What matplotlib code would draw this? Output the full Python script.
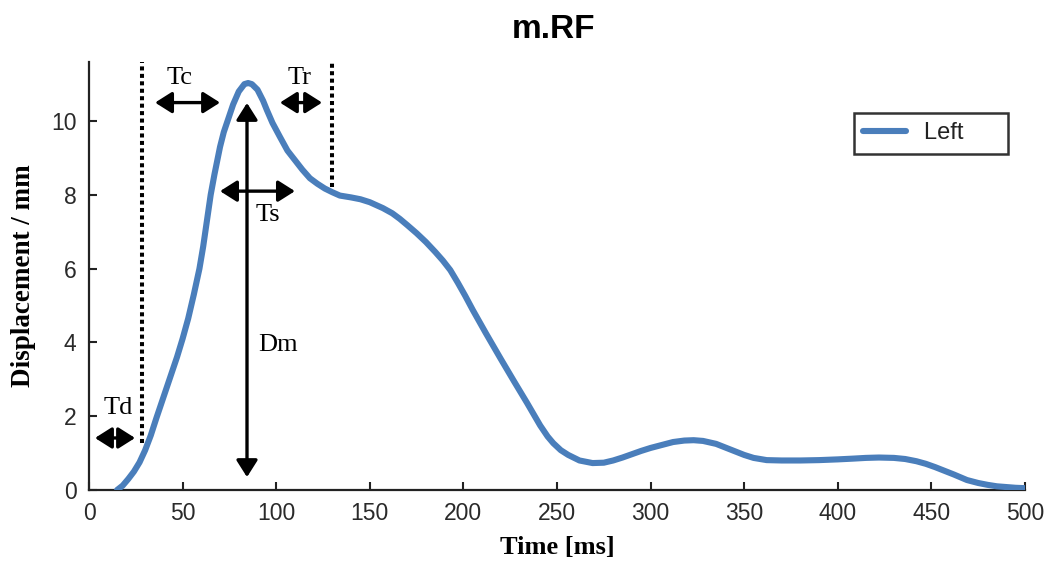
import matplotlib
matplotlib.use("Agg")
import matplotlib.pyplot as plt

# ---- data ----
time_ms = [15, 18, 21, 24, 27, 30, 33, 36, 40, 43, 47, 50, 53, 56, 59, 61, 63, 65, 67,
           70, 72, 74, 77, 80, 83, 85, 87, 90, 93, 95, 98, 102, 106, 110, 114, 118,
           122, 126, 130, 134, 140, 145, 150, 157, 162, 166, 170, 175, 180, 185, 189,
           193, 197, 201, 205, 212, 220, 227, 234, 241, 245, 248, 252, 256, 262, 269,
           275, 280, 285, 290, 295, 300, 306, 312, 318, 323, 328, 335, 340, 345, 350,
           355, 362, 370, 380, 390, 400, 408, 415, 422, 430, 436, 442, 447, 452, 457,
           462, 469, 475, 480, 485, 490, 495, 500]
left_disp = [0.0, 0.12, 0.3, 0.5, 0.75, 1.08, 1.48, 1.95, 2.55, 3.0, 3.6, 4.1, 4.65,
             5.3, 6.0, 6.6, 7.3, 8.0, 8.55, 9.3, 9.7, 10.0, 10.45, 10.8, 11.0, 11.03,
             11.0, 10.85, 10.55, 10.3, 9.95, 9.57, 9.2, 8.94, 8.68, 8.45, 8.3, 8.17,
             8.07, 7.98, 7.93, 7.88, 7.8, 7.64, 7.5, 7.35, 7.18, 6.96, 6.72, 6.45,
             6.22, 5.96, 5.62, 5.26, 4.88, 4.25, 3.55, 2.95, 2.36, 1.75, 1.45, 1.27,
             1.08, 0.95, 0.8, 0.73, 0.74, 0.8, 0.88, 0.97, 1.06, 1.14, 1.22, 1.3, 1.34,
             1.35, 1.33, 1.25, 1.15, 1.05, 0.95, 0.87, 0.81, 0.8, 0.8, 0.81, 0.83, 0.85,
             0.87, 0.88, 0.87, 0.84, 0.78, 0.71, 0.62, 0.52, 0.42, 0.27, 0.19, 0.14,
             0.1, 0.08, 0.06, 0.05]
x_ticks = [0, 50, 100, 150, 200, 250, 300, 350, 400, 450, 500]
y_ticks = [0, 2, 4, 6, 8, 10]

# annotation geometry (data units)
dotted_lines = [(28.1, 1.27), (129.6, 8.2)]          # x, bottom y (to top)
h_arrows = {"Td": (3.2, 24.6, 1.41), "Tc": (35.3, 70.0, 10.5),
            "Tr": (102.0, 124.5, 10.5), "Ts": (70.0, 110.0, 8.1)}
dm_arrow = (84.4, 0.35, 10.49)
labels = {"Td": (15.5, 2.22), "Tc": (48.6, 11.16), "Tr": (112.7, 11.16),
          "Ts": (95.6, 7.45), "Dm": (101.0, 3.93)}

W, H = 1049, 567
fig = plt.figure(figsize=(W / 100, H / 100), dpi=100)
ax = fig.add_axes([89 / W, 1 - 490 / H, (1025 - 89) / W, (490 - 62) / H])

line_color = "#4A7EBB"
ax.plot(time_ms, left_disp, color=line_color, lw=4.4, solid_capstyle="round",
        solid_joinstyle="round", label="Left", zorder=3)

ax.set_xlim(0, 500)
ax.set_ylim(0, 11.6)
ax.set_xticks(x_ticks)
ax.set_yticks(y_ticks)
for s in ["top", "right"]:
    ax.spines[s].set_visible(False)
for s in ["left", "bottom"]:
    ax.spines[s].set_linewidth(1.6)
    ax.spines[s].set_color("#222222")
ax.tick_params(direction="in", length=6, width=1.5, color="#222222",
               labelsize=16.5, labelcolor="#2a2a2a", pad=9)
for lab in ax.get_xticklabels() + ax.get_yticklabels():
    lab.set_fontfamily("Liberation Sans")

ax.set_xlabel("Time [ms]", fontfamily="Liberation Serif", fontweight="bold", fontsize=19)
ax.set_ylabel("Displacement / mm", fontfamily="Liberation Serif", fontweight="bold", fontsize=19.5)
ax.xaxis.set_label_coords(0.5, -0.108)
ax.yaxis.set_label_coords(-0.057, 0.5)

fig.text(553 / W, 1 - 30 / H, "m.RF", ha="center", va="center",
         fontfamily="Liberation Sans", fontweight="bold", fontsize=24)

# dotted verticals
for xv, yb in dotted_lines:
    ax.plot([xv, xv], [yb, 11.6], color="black", lw=2.9, ls=(0, (1.0, 0.85)),
            zorder=2, clip_on=False)

arrow_style = "<|-|>,head_length=0.6,head_width=0.38"
for key, (x0, x1, yy) in h_arrows.items():
    ax.annotate("", xy=(x1, yy), xytext=(x0, yy),
                arrowprops=dict(arrowstyle=arrow_style, color="black", lw=2.4,
                                mutation_scale=17, shrinkA=0, shrinkB=0), zorder=4)
xd, y0, y1 = dm_arrow
ax.annotate("", xy=(xd, y1), xytext=(xd, y0),
            arrowprops=dict(arrowstyle=arrow_style, color="black", lw=2.4,
                            mutation_scale=17, shrinkA=0, shrinkB=0), zorder=4)

for txt, (xt, yt) in labels.items():
    ax.text(xt, yt, txt, ha="center", va="center", fontfamily="Liberation Serif",
            fontsize=19, color="black", zorder=5)

leg = ax.legend(loc="upper right", bbox_to_anchor=(1008 / W, 1 - 113 / H),
                bbox_transform=fig.transFigure, borderaxespad=0, fancybox=False,
                frameon=True, handlelength=1.8,
                prop={"family": "Liberation Sans", "size": 17},
                borderpad=0.4, handletextpad=0.75)
leg.get_frame().set_edgecolor("black")
leg.get_frame().set_linewidth(1.8)
for t in leg.get_texts():
    t.set_color("#222222")
    t.set_text("Left\u2003\u2002")

fig.savefig("out.png", dpi=100)
